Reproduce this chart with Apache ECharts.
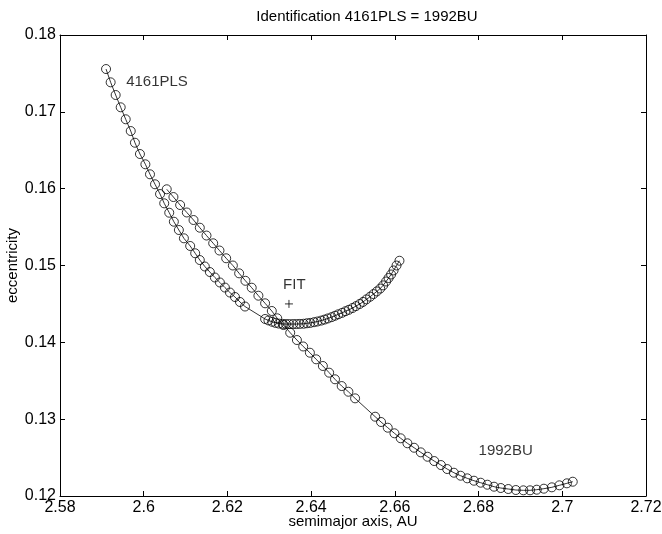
<!DOCTYPE html>
<html>
<head>
<meta charset="utf-8">
<script src="https://cdn.jsdelivr.net/npm/echarts@6/dist/echarts.min.js"></script>
<style>
  html, body { margin: 0; padding: 0; background: #fff; }
  #main { width: 662px; height: 534px; }
</style>
</head>
<body>
<div id="main"></div>
<script>
// 4161PLS: semimajor axis / eccentricity pairs
var pls4161 = [
  [2.5910, 0.17557], [2.5921, 0.17384], [2.5933, 0.17219], [2.5945, 0.17059],
  [2.5957, 0.16903], [2.5969, 0.16750], [2.5979, 0.16598], [2.5991, 0.16451],
  [2.6004, 0.16317], [2.6015, 0.16187], [2.6027, 0.16057], [2.6039, 0.15930],
  [2.6049, 0.15809], [2.6061, 0.15687], [2.6072, 0.15570], [2.6084, 0.15462],
  [2.6096, 0.15354], [2.6111, 0.15254], [2.6123, 0.15159], [2.6134, 0.15071],
  [2.6146, 0.14987], [2.6158, 0.14915], [2.6170, 0.14844], [2.6182, 0.14779],
  [2.6194, 0.14713], [2.6206, 0.14648], [2.6218, 0.14590], [2.6230, 0.14525],
  [2.6242, 0.14466],
  [2.6290, 0.14304], [2.6298, 0.14285], [2.6307, 0.14267], [2.6315, 0.14253],
  [2.6323, 0.14244], [2.6332, 0.14240], [2.6340, 0.14238], [2.6348, 0.14238],
  [2.6357, 0.14238], [2.6365, 0.14238], [2.6373, 0.14240], [2.6382, 0.14242],
  [2.6390, 0.14248], [2.6398, 0.14253], [2.6407, 0.14262], [2.6415, 0.14271],
  [2.6424, 0.14283], [2.6432, 0.14296], [2.6440, 0.14311], [2.6449, 0.14328],
  [2.6457, 0.14346], [2.6465, 0.14365], [2.6474, 0.14384], [2.6482, 0.14405],
  [2.6490, 0.14423], [2.6499, 0.14447], [2.6507, 0.14471], [2.6516, 0.14499],
  [2.6524, 0.14526], [2.6532, 0.14559], [2.6541, 0.14594], [2.6549, 0.14628],
  [2.6557, 0.14663], [2.6565, 0.14700], [2.6572, 0.14741], [2.6579, 0.14792],
  [2.6585, 0.14837], [2.6591, 0.14883], [2.6597, 0.14936], [2.6604, 0.15000],
  [2.6611, 0.15062]
];

// 1992BU
var bu1992 = [
  [2.6055, 0.15992], [2.6071, 0.15891], [2.6087, 0.15787], [2.6103, 0.15690],
  [2.6119, 0.15592], [2.6134, 0.15492], [2.6150, 0.15390], [2.6166, 0.15289],
  [2.6181, 0.15195], [2.6197, 0.15094], [2.6213, 0.15000], [2.6228, 0.14898],
  [2.6243, 0.14801], [2.6258, 0.14711], [2.6274, 0.14607], [2.6290, 0.14508],
  [2.6306, 0.14408], [2.6319, 0.14313], [2.6334, 0.14225], [2.6350, 0.14125],
  [2.6366, 0.14030], [2.6381, 0.13946], [2.6397, 0.13865], [2.6412, 0.13779],
  [2.6428, 0.13692], [2.6443, 0.13605], [2.6457, 0.13519], [2.6473, 0.13431],
  [2.6489, 0.13357], [2.6505, 0.13271],
  [2.6553, 0.13032], [2.6567, 0.12963], [2.6583, 0.12889], [2.6599, 0.12816],
  [2.6614, 0.12751], [2.6630, 0.12686], [2.6646, 0.12628], [2.6662, 0.12568],
  [2.6678, 0.12511], [2.6694, 0.12455], [2.6710, 0.12403], [2.6725, 0.12351],
  [2.6741, 0.12303], [2.6757, 0.12264], [2.6773, 0.12230], [2.6789, 0.12199],
  [2.6805, 0.12173], [2.6821, 0.12147], [2.6837, 0.12121], [2.6853, 0.12104],
  [2.6871, 0.12091], [2.6889, 0.12078], [2.6907, 0.12074], [2.6923, 0.12074],
  [2.6939, 0.12082], [2.6956, 0.12095], [2.6975, 0.12113], [2.6993, 0.12139],
  [2.7011, 0.12165], [2.7025, 0.12186]
];

var fitPoint = [[2.6347, 0.1450]];

var textLabels = [
  [2.5958, 0.17388, '4161PLS'],
  [2.6800, 0.12585, '1992BU'],
  [2.6333, 0.14746, 'FIT']
];

var FONT = 'Liberation Sans, Arial, Helvetica, sans-serif';
var INK = '#000';

var chartDom = document.getElementById('main');
var myChart = echarts.init(chartDom, null, { renderer: 'canvas' });

function numLabel(v) {
  return String(+v.toFixed(2));
}

var axisCommon = {
  type: 'value',
  scale: true,
  nameMoveOverlap: false,
  axisLine: { show: true, onZero: false, lineStyle: { color: '#000', width: 1 } },
  axisTick: { show: true, inside: true, length: 5, lineStyle: { color: '#000', width: 1 } },
  splitLine: { show: false },
  nameTextStyle: { color: INK, fontFamily: FONT, fontSize: 15 }
};

function curve(name, data) {
  return {
    name: name,
    type: 'line',
    data: data,
    symbol: 'circle',
    symbolSize: 9,
    showAllSymbol: true,
    smooth: false,
    lineStyle: { color: '#000', width: 0.8 },
    itemStyle: { color: 'rgba(0,0,0,0)', borderColor: '#000', borderWidth: 0.8 },
    emphasis: { disabled: true },
    z: 3
  };
}

var option = {
  animation: false,
  backgroundColor: '#fff',
  graphic: [
    {
      type: 'text',
      x: 367,
      y: 17,
      style: {
        text: 'Identification 4161PLS = 1992BU',
        fill: INK,
        font: '15px ' + FONT,
        textAlign: 'center',
        textVerticalAlign: 'middle'
      }
    }
  ],
  grid: { left: 60, right: 16, top: 35, bottom: 38, outerBoundsMode: 'none' },
  xAxis: [
    Object.assign({}, axisCommon, {
      position: 'bottom',
      min: 2.58,
      max: 2.72,
      interval: 0.02,
      name: 'semimajor axis, AU',
      nameLocation: 'middle',
      nameGap: 18,
      axisLabel: { color: INK, fontFamily: FONT, fontSize: 16, margin: 4, formatter: numLabel }
    }),
    Object.assign({}, axisCommon, {
      position: 'top',
      min: 2.58,
      max: 2.72,
      interval: 0.02,
      axisLabel: { show: false }
    })
  ],
  yAxis: [
    Object.assign({}, axisCommon, {
      position: 'left',
      min: 0.12,
      max: 0.18,
      interval: 0.01,
      name: 'eccentricity',
      nameLocation: 'middle',
      nameGap: 40,
      nameRotate: 90,
      axisLabel: { color: INK, fontFamily: FONT, fontSize: 16, margin: 4, formatter: numLabel }
    }),
    Object.assign({}, axisCommon, {
      position: 'right',
      min: 0.12,
      max: 0.18,
      interval: 0.01,
      axisLabel: { show: false }
    })
  ],
  series: [
    curve('4161PLS', pls4161),
    curve('1992BU', bu1992),
    {
      name: 'FIT',
      type: 'scatter',
      data: fitPoint,
      symbol: 'path://M5,0 L5,10 M0,5 L10,5',
      symbolSize: 8,
      itemStyle: { color: 'none', borderColor: '#000', borderWidth: 1 },
      emphasis: { disabled: true },
      z: 4
    },
    {
      name: 'labels',
      type: 'scatter',
      data: textLabels,
      symbolSize: 0,
      label: {
        show: true,
        position: [0, 0],
        align: 'left',
        verticalAlign: 'middle',
        color: INK,
        fontFamily: FONT,
        fontSize: 15,
        formatter: function (p) { return p.data[2]; }
      },
      emphasis: { disabled: true },
      z: 5
    }
  ]
};

myChart.setOption(option);
</script>
</body>
</html>
